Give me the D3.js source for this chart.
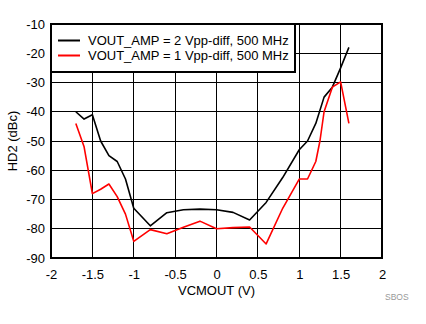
<!DOCTYPE html>
<html><head><meta charset="utf-8">
<script src="https://cdn.jsdelivr.net/npm/d3@7"></script>
<style>body{margin:0;background:#fff}svg{display:block}text{font-family:Arial,"Liberation Sans",sans-serif}</style>
</head><body>
<script>
const xTicks = [-2,-1.5,-1,-0.5,0,0.5,1,1.5,2];
const yTicks = [-10,-20,-30,-40,-50,-60,-70,-80,-90];
const blackX = [-1.7,-1.6,-1.5,-1.4,-1.3,-1.2,-1.1,-1.0,-0.8,-0.6,-0.4,-0.2,0,0.2,0.4,0.6,0.8,1.0,1.1,1.2,1.3,1.4,1.5,1.6];
const blackY = [-40,-42.5,-41,-50,-55,-57,-63,-73,-79,-74.5,-73.5,-73.3,-73.5,-74.4,-77,-71,-62.5,-53,-50,-44,-35,-31.6,-25,-18];
const redX = [-1.7,-1.6,-1.5,-1.4,-1.3,-1.2,-1.1,-1.0,-0.8,-0.6,-0.4,-0.2,0,0.2,0.4,0.6,0.8,1.0,1.1,1.2,1.25,1.3,1.4,1.5,1.6];
const redY = [-44,-52,-68,-66.5,-64.7,-69,-75,-84.3,-80.3,-81.7,-79.5,-77.4,-80,-79.6,-79.4,-85.2,-73,-63,-63,-57,-50,-40,-31.6,-29.8,-44];
const seriesNames = ["VOUT_AMP = 2 Vpp-diff, 500 MHz","VOUT_AMP = 1 Vpp-diff, 500 MHz"];
const seriesColors = ["#000000","#ff0000"];

const W=426,H=324, L=51,R=382,T=24,B=258;
const FS=13;
const svg=d3.select("body").append("svg").attr("width",W).attr("height",H);
const x=d3.scaleLinear().domain([-2,2]).range([L,R]);
const y=d3.scaleLinear().domain([-90,-10]).range([B,T]);

// grid
svg.append("g").selectAll("line").data(xTicks).join("line")
  .attr("x1",d=>x(d)).attr("x2",d=>x(d)).attr("y1",T).attr("y2",B)
  .attr("stroke","#000").attr("stroke-width",1).attr("shape-rendering","crispEdges");
svg.append("g").selectAll("line").data(yTicks).join("line")
  .attr("x1",L).attr("x2",R).attr("y1",d=>y(d)).attr("y2",d=>y(d))
  .attr("stroke","#000").attr("stroke-width",1).attr("shape-rendering","crispEdges");

// axes labels via d3 axes (no tick lines)
const ax=svg.append("g").attr("transform",`translate(0,${B})`)
  .call(d3.axisBottom(x).tickValues(xTicks).tickSize(0).tickPadding(12).tickFormat(d=>String(d)));
ax.select(".domain").remove();
ax.selectAll("text").attr("font-size",FS).attr("fill","#000").style("font-family","Arial,'Liberation Sans',sans-serif");
const ay=svg.append("g").attr("transform",`translate(${L},0)`)
  .call(d3.axisLeft(y).tickValues(yTicks).tickSize(0).tickPadding(6).tickFormat(d=>String(d)));
ay.select(".domain").remove();
ay.selectAll("text").attr("font-size",FS).attr("fill","#000").style("font-family","Arial,'Liberation Sans',sans-serif");

// lines
const line=d3.line().x(d=>x(d[0])).y(d=>y(d[1]));
const series=[d3.zip(blackX,blackY), d3.zip(redX,redY)];
svg.append("g").selectAll("path").data(series).join("path")
  .attr("d",line).attr("fill","none").attr("stroke",(d,i)=>seriesColors[i]).attr("stroke-width",1.6)
  .attr("stroke-linejoin","round");

// plot border
svg.append("rect").attr("x",L).attr("y",T).attr("width",R-L).attr("height",B-T)
  .attr("fill","none").attr("stroke","#000").attr("stroke-width",2);

// legend
const lg=svg.append("g");
lg.append("rect").attr("x",L).attr("y",T).attr("width",295-L).attr("height",72-T)
  .attr("fill","#fff").attr("stroke","#000").attr("stroke-width",2);
seriesNames.forEach((n,i)=>{
  const yy=40.5+i*15;
  lg.append("line").attr("x1",58).attr("x2",80).attr("y1",yy).attr("y2",yy)
    .attr("stroke",seriesColors[i]).attr("stroke-width",2);
  lg.append("text").attr("x",88).attr("y",yy+4.5).attr("font-size",FS).attr("fill","#000").text(n);
});

// titles
svg.append("text").attr("x",(L+R)/2).attr("y",295).attr("text-anchor","middle").attr("font-size",FS).text("VCMOUT (V)");
svg.append("text").attr("transform",`translate(17,${(T+B)/2}) rotate(-90)`).attr("text-anchor","middle").attr("font-size",FS).text("HD2 (dBc)");
svg.append("text").attr("x",385).attr("y",300).attr("font-size",8.5).attr("fill","#999").text("SBOS");
</script>
</body></html>
